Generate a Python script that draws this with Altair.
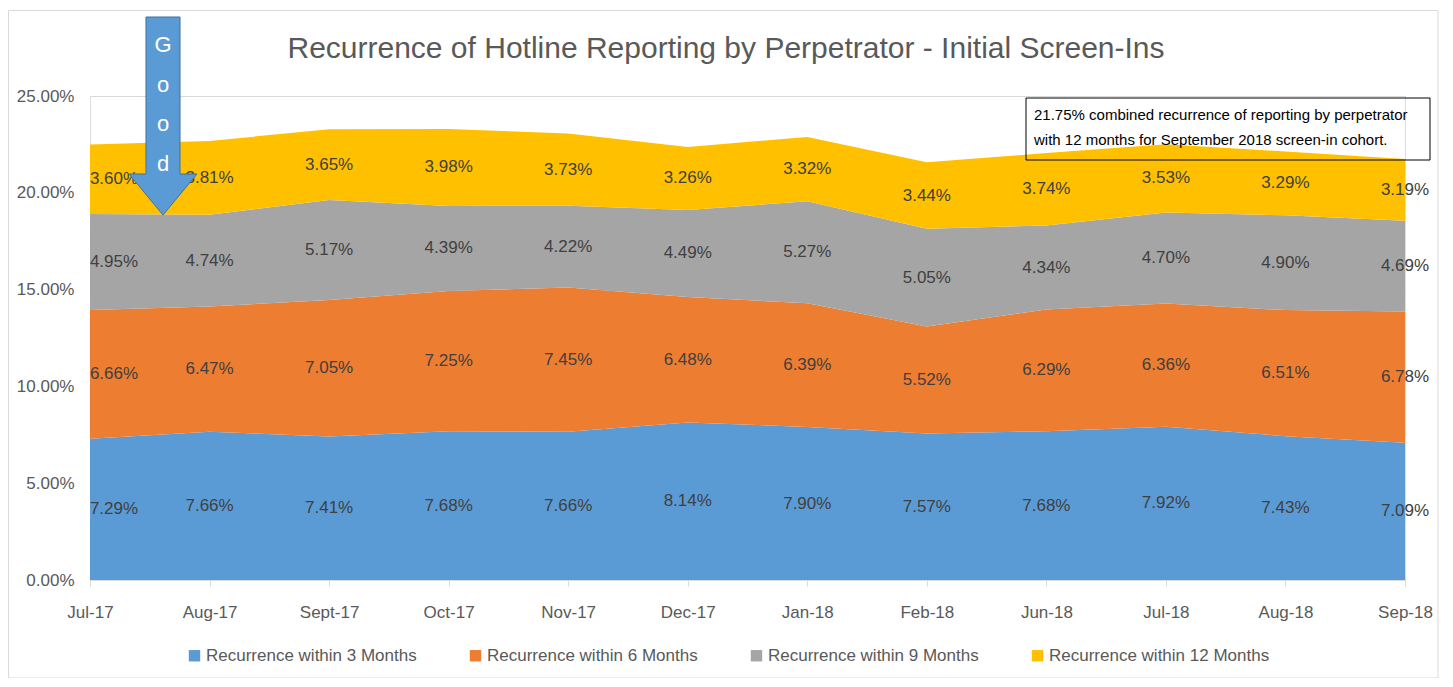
import altair as alt
import pandas as pd

categories = ["Jul-17", "Aug-17", "Sept-17", "Oct-17", "Nov-17", "Dec-17",
              "Jan-18", "Feb-18", "Jun-18", "Jul-18", "Aug-18", "Sep-18"]
series_names = ["Recurrence within 3 Months", "Recurrence within 6 Months",
                "Recurrence within 9 Months", "Recurrence within 12 Months"]
within_3 = [7.29, 7.66, 7.41, 7.68, 7.66, 8.14, 7.90, 7.57, 7.68, 7.92, 7.43, 7.09]
within_6 = [6.66, 6.47, 7.05, 7.25, 7.45, 6.48, 6.39, 5.52, 6.29, 6.36, 6.51, 6.78]
within_9 = [4.95, 4.74, 5.17, 4.39, 4.22, 4.49, 5.27, 5.05, 4.34, 4.70, 4.90, 4.69]
within_12 = [3.60, 3.81, 3.65, 3.98, 3.73, 3.26, 3.32, 3.44, 3.74, 3.53, 3.29, 3.19]
series_colors = ["#5B9BD5", "#ED7D31", "#A5A5A5", "#FFC000"]
y_ticks = [0, 5, 10, 15, 20, 25]
title_text = "Recurrence of Hotline Reporting by Perpetrator - Initial Screen-Ins"
note_lines = ["21.75% combined recurrence  of reporting  by perpetrator",
              "with 12 months  for September  2018 screen-in cohort."]
arrow_letters = ["G", "o", "o", "d"]

FONT = "Liberation Sans"
W, H = 1315, 484

rows = []
for s_i, (name, vals) in enumerate(zip(series_names, [within_3, within_6, within_9, within_12])):
    for c_i, (cat, v) in enumerate(zip(categories, vals)):
        rows.append({"cat": cat, "ci": c_i, "series": name, "si": s_i, "value": v})
df = pd.DataFrame(rows)

base = alt.Chart(df).transform_stack(
    stack="value", groupby=["cat"], sort=[alt.SortField("si", order="ascending")], as_=["y0", "y1"]
).transform_calculate(
    mid="(datum.y0 + datum.y1) / 2",
    label="format(datum.value, '.2f') + '%'"
)

x_enc = alt.X("cat:N", sort=categories, title=None,
              scale=alt.Scale(type="point", padding=0),
              axis=alt.Axis(labelAngle=0, labelFontSize=17, labelColor="#595959", labelFont=FONT,
                            labelPadding=18, tickSize=6, tickColor="#D9D9D9", domainColor="#D9D9D9",
                            grid=False))
y_scale = alt.Scale(domain=[0, 25], nice=False)
y_axis = alt.Axis(values=y_ticks, labelExpr="format(datum.value, '.2f') + '%'", labelFontSize=17,
                  labelColor="#595959", labelFont=FONT, labelPadding=16, domain=False, ticks=False,
                  grid=True, gridColor="#D9D9D9")

area = base.mark_area(opacity=1).encode(
    x=x_enc,
    y=alt.Y("y1:Q", scale=y_scale, axis=y_axis, title=None),
    y2="y0:Q",
    color=alt.Color("series:N", scale=alt.Scale(domain=series_names, range=series_colors),
                    legend=alt.Legend(title=None, orient="none", legendX=96, legendY=551,
                                      direction="horizontal", symbolType="square", symbolSize=130,
                                      symbolStrokeWidth=0, labelFontSize=17, labelColor="#595959",
                                      labelFont=FONT, gridAlign="all", columnPadding=40,
                                      labelLimit=400, padding=0, symbolOffset=0, labelOffset=3)),
)

labels_mid = base.transform_filter("datum.ci > 0").mark_text(
    fontSize=17, color="#404040", font=FONT
).encode(x=x_enc, y=alt.Y("mid:Q", scale=y_scale, axis=y_axis, title=None), text="label:N")

labels_first = base.transform_filter("datum.ci == 0").mark_text(
    fontSize=17, color="#404040", font=FONT, dx=24
).encode(x=x_enc, y=alt.Y("mid:Q", scale=y_scale, axis=y_axis, title=None), text="label:N")

one = pd.DataFrame({"k": [0]})

border = alt.Chart(one).mark_rect(fill="transparent", stroke="#D9D9D9", strokeWidth=1).encode(
    x=alt.value(-81.5), x2=alt.value(1348), y=alt.value(-85.5), y2=alt.value(582))

title_mark = alt.Chart(one).mark_text(
    text=title_text, fontSize=30, color="#595959", font=FONT, align="center", baseline="middle"
).encode(x=alt.value(636), y=alt.value(-47))

note_box = alt.Chart(one).mark_rect(fill="transparent", stroke="#000000", strokeWidth=1).encode(
    x=alt.value(936), x2=alt.value(1340), y=alt.value(2), y2=alt.value(64))

note_text = alt.Chart(one).mark_text(
    text=note_lines, align="left", baseline="middle", fontSize=15, lineHeight=25, color="#000000", font=FONT
).encode(x=alt.value(944), y=alt.value(19))

arrow_path = ("M-0.172,-1L0.172,-1L0.172,0.586L0.343,0.586L0,1L-0.343,0.586L-0.172,0.586Z")
arrow = alt.Chart(one).mark_point(
    shape=arrow_path, filled=True, fill="#5B9BD5", stroke="#41719C", strokeWidth=1, opacity=1, size=39204
).encode(x=alt.value(73), y=alt.value(20))

arrow_text = alt.Chart(one).mark_text(
    text=arrow_letters, fontSize=22, lineHeight=39.5, color="#FFFFFF", font=FONT, baseline="middle"
).encode(x=alt.value(73), y=alt.value(-51))

chart = alt.layer(area, labels_mid, labels_first, border, title_mark, note_box, note_text, arrow, arrow_text).properties(
    width=W, height=H,
    autosize=alt.AutoSizeParams(type="none"),
    padding={"left": 82, "top": 88, "right": 36, "bottom": 98},
).configure_view(strokeWidth=0).configure(background="#FFFFFF")

chart.save("out.html", embed_options={"renderer": "svg", "actions": False})
